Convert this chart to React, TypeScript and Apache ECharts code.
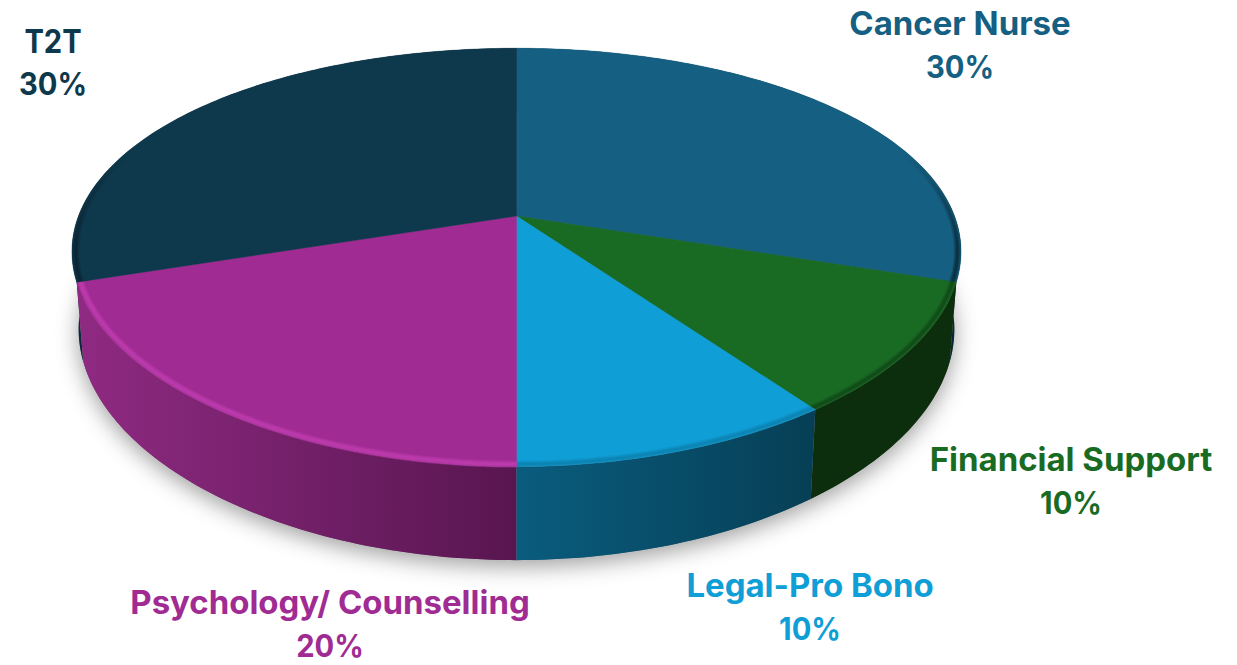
import React, { useEffect, useRef } from "react";
import * as echarts from "echarts";

const categories = ["Cancer Nurse", "Financial Support", "Legal-Pro Bono", "Psychology/ Counselling", "T2T"];
const shares = [30, 10, 10, 20, 30];
const topColors = ["#156082", "#196B24", "#0F9ED5", "#A02B93", "#0E384C"];
const labelColors = ["#156082", "#196B24", "#0F9ED5", "#A02B93", "#0E384C"];
const wallFrom = ["#0A2E42", "#0D2E0C", "#0A5C7E", "#8F2A82", "#0A2A3C"];
const wallTo = ["#082636", "#0D2E0C", "#063F55", "#581650", "#0A2A3C"];
const rimColors = ["#000000", "#000000", "#000000", "#C23FB4", "#000000"];
const rimAlpha = [0.2, 0.1, 0.05, 0.38, 0.12];
const rimFades = [true, false, false, false, true];
const nameStretch = [1.03, 1.03, 1.03, 1.03, 0.91];
const percentStretch = 0.94;
const labelAnchors: [number, number][] = [[960, 45], [1071, 481], [810, 607], [330, 624.5], [53, 62]];

// perspective projection of the pie's disc
const CX = 516.5, CY = 216, A = 438, B = 201, P = 0.198, PX = 0.171, DEPTH = 75, BOTTOM_X = 0.985;
const total = shares.reduce((s, v) => s + v, 0);
const startOf = (i: number) => (shares.slice(0, i).reduce((s, v) => s + v, 0) / total) * 360;

function top(deg: number, r = 1): [number, number] {
  const t = (deg * Math.PI) / 180;
  const u = Math.sin(t) * r, v = -Math.cos(t) * r;
  return [CX + (A * u) / (1 - PX * v), CY + (B * v) / (1 - P * v)];
}
function bottom(deg: number): [number, number] {
  const t = (deg * Math.PI) / 180;
  const u = Math.sin(t), v = -Math.cos(t);
  return [CX + (BOTTOM_X * A * u) / (1 - PX * v), CY + (B * v + DEPTH) / (1 - P * v)];
}
function arc(from: number, to: number, f: (d: number) => [number, number]) {
  const n = Math.max(2, Math.ceil(Math.abs(to - from)));
  const pts: [number, number][] = [];
  for (let k = 0; k <= n; k++) pts.push(f(from + ((to - from) * k) / n));
  return pts;
}
const toPath = (pts: [number, number][], close = true) =>
  pts.map((p, i) => `${i ? "L" : "M"}${p[0].toFixed(2)} ${p[1].toFixed(2)}`).join("") + (close ? "Z" : "");

const wallOrder = [0, 4, 1, 3, 2];
const rimLayers = [
  { r: 0.992, w: 7 },
  { r: 0.992, w: 4.5 },
  { r: 0.992, w: 2.5 },
];

export default function App() {
  const ref = useRef<HTMLDivElement>(null);
  useEffect(() => {
    document.body.style.margin = "0";
    const chart = echarts.init(ref.current!, undefined, { renderer: "svg" });
    const base = { type: "custom", coordinateSystem: "none", silent: true } as const;
    chart.setOption({
      animation: false,
      backgroundColor: "#fff",
      series: [
        {
          ...base,
          data: [0],
          renderItem: () => ({
            type: "path",
            shape: { pathData: toPath(arc(0, 360, bottom)) },
            style: { fill: "#888", shadowBlur: 22, shadowColor: "rgba(0,0,0,0.38)", shadowOffsetY: 6 },
          }),
        },
        {
          ...base,
          data: wallOrder.map((i) => shares[i]),
          renderItem: (params: any) => {
            const i = wallOrder[params.dataIndex];
            const a = startOf(i), b = a + (shares[i] / total) * 360;
            const pts = [...arc(a, b, top), ...arc(b, a, bottom)];
            return {
              type: "path",
              shape: { pathData: toPath(pts) },
              style: {
                fill: new echarts.graphic.LinearGradient(0, 0, 1, 0, [
                  { offset: 0, color: wallFrom[i] },
                  { offset: 1, color: wallTo[i] },
                ]),
              },
            };
          },
        },
        {
          ...base,
          data: shares,
          renderItem: (params: any) => {
            const i = params.dataIndex;
            const a = startOf(i), b = a + (shares[i] / total) * 360;
            const sector = [top(0, 0), ...arc(a, b, top)];
            const ra = Math.max(a, 70), rb = Math.min(b, 290);
            const children: any[] = [
              {
                type: "path",
                shape: { pathData: toPath(sector) },
                style: { fill: topColors[i], stroke: topColors[i], lineWidth: 0.4 },
              },
            ];
            if (rb > ra) {
              const stroke = rimFades[i]
                ? new echarts.graphic.LinearGradient(0, 0, 0, 1, [
                    { offset: 0, color: "rgba(0,0,0,0)" },
                    { offset: 0.75, color: "rgba(0,0,0,1)" },
                    { offset: 1, color: "rgba(0,0,0,1)" },
                  ])
                : rimColors[i];
              rimLayers.forEach((l) => {
                children.push({
                  type: "path",
                  shape: { pathData: toPath(arc(ra, rb, (d) => top(d, l.r)), false) },
                  style: { fill: "none", stroke, opacity: rimAlpha[i], lineWidth: l.w },
                });
              });
            }
            return { type: "group", children };
          },
        },
        {
          ...base,
          data: shares,
          renderItem: (params: any) => {
            const i = params.dataIndex;
            const line = (text: string, y: number, stretch: number, size: number) => ({
              type: "text",
              x: labelAnchors[i][0],
              y,
              scaleX: stretch,
              style: {
                text,
                fill: labelColors[i],
                font: `700 ${size}px Inter`,
                lineHeight: 34,
                align: "center",
                verticalAlign: "middle",
              },
            });
            return {
              type: "group",
              children: [
                line(categories[i], labelAnchors[i][1] - 21.5, nameStretch[i], 32),
                line(`${Math.round((shares[i] / total) * 100)}%`, labelAnchors[i][1] + 21.5, percentStretch, 31),
              ],
            };
          },
        },
      ],
    } as any);
    return () => chart.dispose();
  }, []);
  return <div ref={ref} style={{ width: 1237, height: 665 }} />;
}
